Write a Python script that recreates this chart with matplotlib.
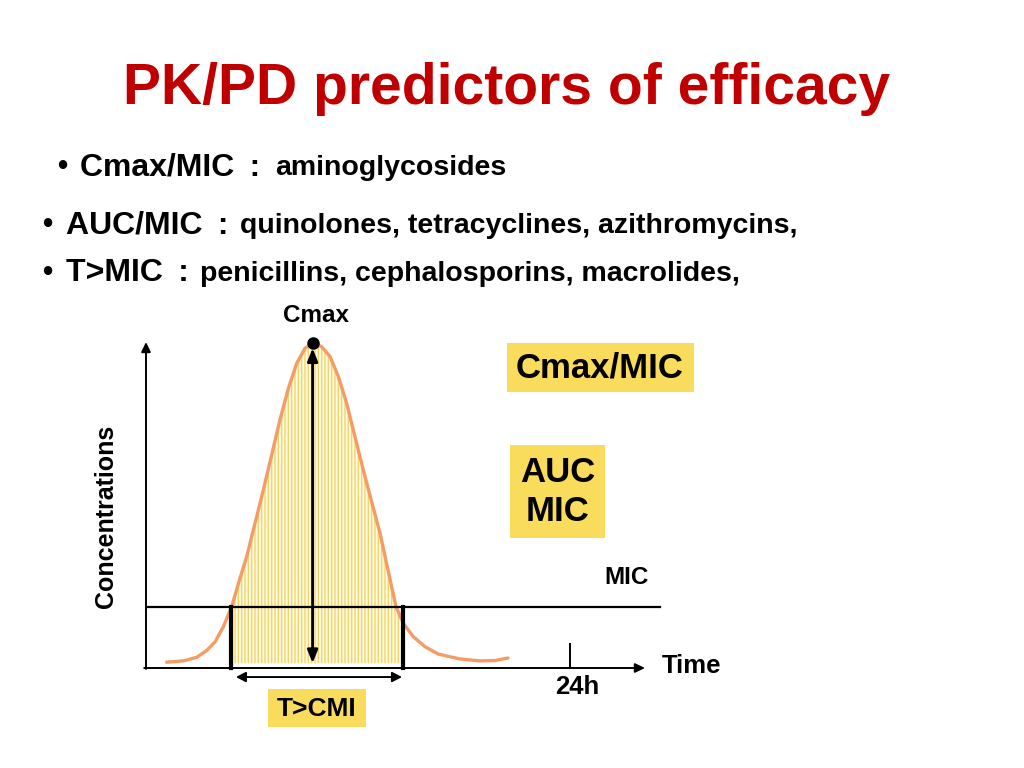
import matplotlib
matplotlib.use("Agg")
import matplotlib.pyplot as plt
from matplotlib.patches import Rectangle
import numpy as np

plt.rcParams['font.family'] = ['Liberation Sans', 'DejaVu Sans']
plt.rcParams['hatch.linewidth'] = 1.0

# ---- data ----
time_h = [1.17, 2.11, 2.87, 3.43, 3.91, 4.38, 4.85, 5.32, 5.70, 6.17, 6.64, 7.11,
          7.58, 8.06, 8.53, 9.00, 9.43, 9.94, 10.42, 10.89, 11.36, 11.83, 12.30,
          12.77, 13.25, 13.72, 14.15, 14.57, 15.13, 15.79, 16.55, 17.77, 18.90,
          19.75, 20.49]
conc = [0.18, 0.22, 0.33, 0.54, 0.81, 1.28, 1.90, 2.78, 3.45, 4.48, 5.51, 6.59,
        7.68, 8.66, 9.43, 9.90, 10.05, 9.95, 9.64, 9.02, 8.19, 7.16, 6.13,
        5.15, 4.17, 2.98, 1.90, 1.38, 0.97, 0.66, 0.43, 0.28, 0.22,
        0.23, 0.31]
mic = 1.90
cmax_t, cmax = 9.43, 10.05
t_above = [4.81, 14.57]          # thick markers around time above MIC
tick_24h = 24.0
title = "PK/PD predictors of efficacy"
bullet_heads = ["Cmax/MIC\u2009 : ", "AUC/MIC\u2009 : ", "T>MIC\u2009 : "]
bullet_tails = ["aminoglycosides",
                "quinolones, tetracyclines, azithromycins,",
                "penicillins, cephalosporins, macrolides,"]

W, H = 1024, 768
fig = plt.figure(figsize=(W / 100, H / 100), dpi=100)

def fx(x):
    return x / W

def fy(y):
    return 1 - y / H

# main axes: origin at pixel (146, 668); 17.667 px/h, 32.3 px/unit
x0, y0 = 146, 668
xr, yr = 700, 330
ax = fig.add_axes([fx(x0), fy(y0), (xr - x0) / W, (y0 - yr) / H])
ax.set_xlim(0, (xr - x0) / 17.667)
ax.set_ylim(0, (y0 - yr) / 32.3)
ax.axis('off')

t = np.array(time_h)
c = np.array(conc)

# shaded area above MIC window
base = 0.15
fb = ax.fill_between(t, base, c, where=(t >= 4.85) & (t <= 14.57),
                     facecolor='#fffae0', edgecolor='#f1d56a', hatch='|||||', linewidth=0)
fb.set_clip_path(Rectangle((4.85, 0), 14.40 - 4.85, 12, transform=ax.transData))

# curve
ax.plot(t, c, color='#f59c66', lw=2.4, solid_capstyle='round',
        solid_joinstyle='round', zorder=3)

# MIC line
ax.plot([0, (660 - x0) / 17.667], [mic, mic], color='k', lw=1.6, zorder=4)

# axes arrows
arr = dict(color='k', lw=1.4, mutation_scale=11.5, shrinkA=0, shrinkB=0,
           arrowstyle='-|>,head_length=0.5,head_width=0.24')
ax.annotate('', xy=(0, (y0 - 342) / 32.3), xytext=(0, -0.03), arrowprops=arr,
            annotation_clip=False)
ax.annotate('', xy=((645 - x0) / 17.667, 0), xytext=(-0.1, 0), arrowprops=arr,
            annotation_clip=False)

# thick vertical lines at MIC crossings
for tv in t_above:
    ax.plot([tv, tv], [0, mic], color='k', lw=3.0, zorder=5, clip_on=False)

# Cmax double arrow
ax.annotate('', xy=(cmax_t, base), xytext=(cmax_t, cmax - 0.15),
            arrowprops=dict(arrowstyle='<|-|>,head_length=0.55,head_width=0.22',
                            color='k', lw=2.0, mutation_scale=14,
                            shrinkA=0, shrinkB=0), annotation_clip=False, zorder=6)
ax.plot([cmax_t], [cmax], 'o', color='k', ms=8, zorder=7, clip_on=False)

# 24h tick
ax.plot([tick_24h, tick_24h], [0, 0.75], color='k', lw=1.4)

# T>MIC double arrow below axis
ax.annotate('', xy=(5.09, -0.28), xytext=(14.49, -0.28),
            arrowprops=dict(arrowstyle='<|-|>,head_length=0.5,head_width=0.26',
                            color='k', lw=1.4, mutation_scale=11.5,
                            shrinkA=0, shrinkB=0), annotation_clip=False)

# ---- texts ----
fig.text(fx(507), fy(104), title, color='#c00000', fontsize=41, fontweight='bold',
         ha='center', va='baseline')

bullet_x = [57, 42, 42]
head_x = [80, 66, 66]
tail_x = [275, 240, 200]
base_y = [175, 233, 281]
for bx, hx, tx, by, head, tail in zip(bullet_x, head_x, tail_x, base_y,
                                       bullet_heads, bullet_tails):
    fig.text(fx(bx), fy(by), "\u2022", fontsize=21, fontweight='bold',
             ha='left', va='baseline')
    fig.text(fx(hx), fy(by), head, fontsize=23, fontweight='bold',
             ha='left', va='baseline')
    fig.text(fx(tx), fy(by), tail, fontsize=20.5, fontweight='bold',
             ha='left', va='baseline')

fig.text(fx(316), fy(316), "Cmax", fontsize=17.5, fontweight='bold', ha='center', va='center')
fig.text(fx(106), fy(516), "Concentrations", fontsize=18, fontweight='bold',
         ha='center', va='center', rotation=90)
fig.text(fx(627), fy(577), "MIC", fontsize=17.5, fontweight='bold', ha='center', va='center')
fig.text(fx(692), fy(666), "Time", fontsize=18.5, fontweight='bold', ha='center', va='center')
fig.text(fx(577), fy(687), "24h", fontsize=18.5, fontweight='bold', ha='center', va='center')

# yellow boxes
yel = '#f9dc5c'
for (l, tp, r, b) in [(507, 343, 694, 392), (510, 445, 605, 538), (268, 689, 366, 727)]:
    fig.patches.append(Rectangle((fx(l), fy(b)), (r - l) / W, (b - tp) / H,
                                 transform=fig.transFigure, facecolor=yel,
                                 edgecolor='none', zorder=0))
fig.text(fx(600), fy(368), "Cmax/MIC", fontsize=25, fontweight='bold', ha='center', va='center')
fig.text(fx(558), fy(492), "AUC\nMIC", fontsize=25, fontweight='bold', ha='center',
         va='center', linespacing=1.2)
fig.text(fx(317), fy(709), "T>CMI", fontsize=19, fontweight='bold', ha='center', va='center')

fig.savefig("out.png", dpi=100)
